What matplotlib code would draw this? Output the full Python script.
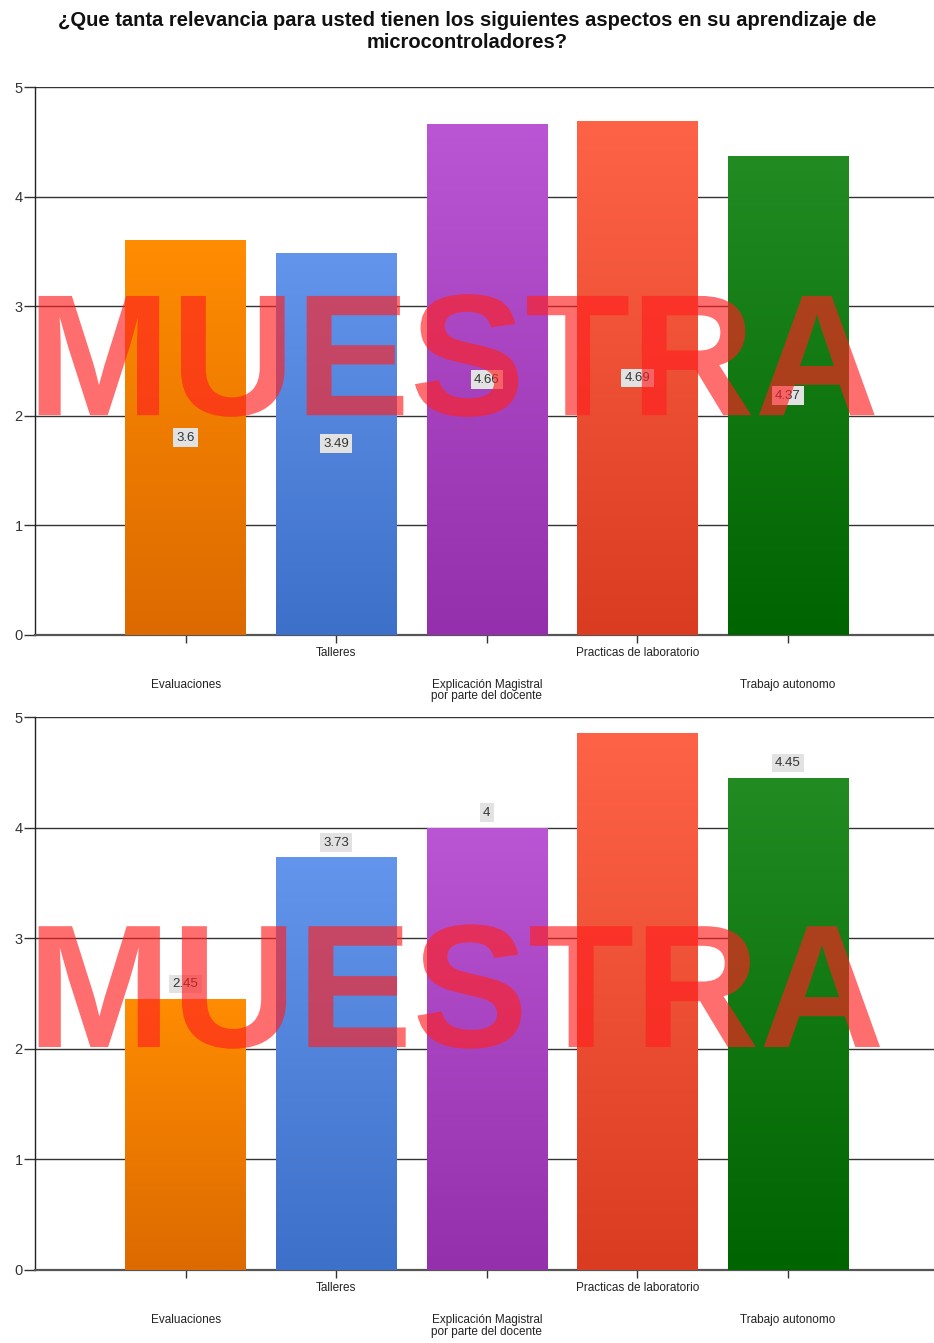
import numpy as np
import matplotlib.pyplot as plt
from matplotlib.colors import LinearSegmentedColormap
from matplotlib.textpath import TextPath
from matplotlib.patches import PathPatch
from matplotlib.font_manager import FontProperties
from matplotlib.transforms import Affine2D

categories = ['Evaluaciones', 'Talleres', 'Explicación Magistral\npor parte del docente',
              'Practicas de laboratorio', 'Trabajo autonomo']
values_top = [3.6, 3.49, 4.66, 4.69, 4.37]
values_bottom = [2.45, 3.73, 4.0, 4.86, 4.45]
labels_top = ['3.6', '3.49', '4.66', '4.69', '4.37']
labels_bottom = ['2.45', '3.73', '4', None, '4.45']

top_colors = ['#FF8C00', '#6495ED', '#BA55D3', '#FF6347', '#228B22']
bottom_colors = ['#DC6A00', '#3D70C8', '#9430AC', '#DA3C22', '#006400']

title = '¿Que tanta relevancia para usted tienen los siguientes aspectos en su aprendizaje de\nmicrocontroladores?'
watermark = 'MUESTRA'

plt.rcParams['font.family'] = ['Liberation Sans', 'DejaVu Sans']

fig = plt.figure(figsize=(9.34, 13.43), dpi=100)
fig.text(0.5, 0.992, title, ha='center', va='top', fontsize=14.5, fontweight='bold',
         color='#111111', linespacing=1.22)

ax_top = fig.add_axes([0.0375, 0.5272, 0.9625, 0.408])
ax_bot = fig.add_axes([0.0375, 0.0544, 0.9625, 0.4117])


def add_watermark(ax, x0, x1, y0, y1):
    # stretched text path so it fills the same box as in the reference
    tp = TextPath((0, 0), watermark, size=1,
                  prop=FontProperties(family='Liberation Sans', weight='bold'))
    ext = tp.get_extents()
    sx = (x1 - x0) / ext.width
    sy = (y1 - y0) / ext.height
    tr = Affine2D().translate(-ext.x0, -ext.y0).scale(sx, sy).translate(x0, y0) + ax.transAxes
    ax.add_patch(PathPatch(tp, transform=tr, facecolor='#FF2020', edgecolor='none',
                           alpha=0.65, zorder=10, clip_on=False))


def draw_panel(ax, values, labels, label_inside):
    x = np.arange(len(values))
    bars = ax.bar(x, values, width=0.8, color='none', edgecolor='none', zorder=3)
    for b, c_top, c_bot in zip(bars, top_colors, bottom_colors):
        cmap = LinearSegmentedColormap.from_list('g', [c_bot, c_top])
        grad = np.linspace(0, 1, 256).reshape(-1, 1)
        x0 = b.get_x()
        x1 = x0 + b.get_width()
        h = b.get_height()
        im = ax.imshow(grad, cmap=cmap, origin='lower', aspect='auto',
                       extent=[x0, x1, 0, h], zorder=3)
        im.set_clip_path(b)
    for xi, v, lab in zip(x, values, labels):
        if lab is None:
            continue
        if label_inside:
            y, va = v / 2, 'center'
        else:
            y, va = v + 0.08, 'bottom'
        ax.text(xi, y, lab, ha='center', va=va, fontsize=9.5, color='#333333', zorder=5,
                bbox=dict(boxstyle='square,pad=0.25', fc='#E2E2E2', ec='none'))

    ax.set_xlim(-1.0, 4.97)
    ax.set_ylim(0, 5)
    ax.set_yticks(range(6))
    ax.yaxis.grid(True, color='#333333', linewidth=1.0, zorder=1)
    ax.set_axisbelow(True)
    for s in ['top', 'right']:
        ax.spines[s].set_visible(False)
    ax.spines['left'].set_color('#222222')
    ax.spines['left'].set_linewidth(1.0)
    ax.spines['bottom'].set_color('#555555')
    ax.spines['bottom'].set_linewidth(1.6)
    ax.tick_params(axis='y', length=8, width=1, color='#333333', labelsize=10.5,
                   labelcolor='#333333', pad=1)
    ax.tick_params(axis='x', length=6, width=1, color='#333333', labelsize=8.5,
                   labelcolor='#222222', pad=3)
    ax.set_xticks(x)
    ax.set_xticklabels(categories, linespacing=0.95)
    for i, t in enumerate(ax.get_xticklabels()):
        if i % 2 == 0:
            t.set_y(-0.057)
        else:
            t.set_y(0.0)


draw_panel(ax_top, values_top, labels_top, True)
draw_panel(ax_bot, values_bottom, labels_bottom, False)
add_watermark(ax_top, 0.004, 0.934, 0.398, 0.622)
add_watermark(ax_bot, 0.004, 0.940, 0.400, 0.625)

fig.savefig('out.png', dpi=100)
